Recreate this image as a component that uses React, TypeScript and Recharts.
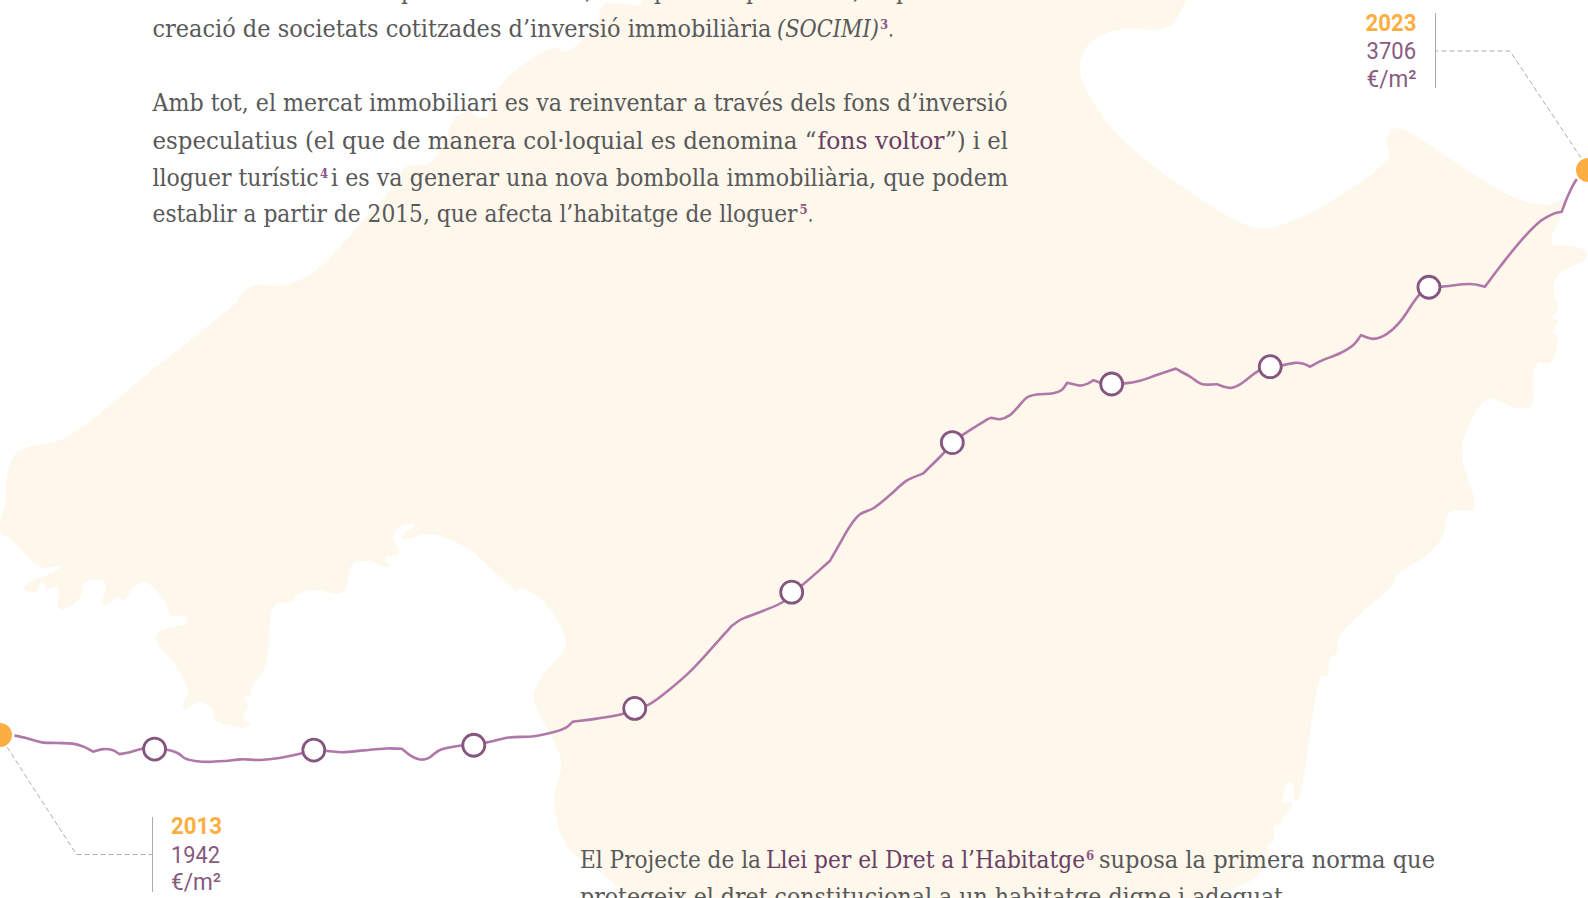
import React from "react"
import { Line, LineChart, XAxis, YAxis } from "recharts"

// price series: position along the time axis and euro per square metre
const lineX = [
  2013.029, 2013.12, 2013.197, 2013.293, 2013.39, 2013.486, 2013.558, 2013.613, 2013.678, 2013.739, 2013.779, 2013.846,
  2013.93, 2014.0, 2014.087, 2014.147, 2014.195, 2014.255, 2014.339, 2014.447, 2014.543, 2014.663, 2014.784, 2014.928,
  2015.0, 2015.084, 2015.18, 2015.313, 2015.457, 2015.553, 2015.601, 2015.661, 2015.717, 2015.793, 2015.926, 2016.005,
  2016.106, 2016.226, 2016.383, 2016.515, 2016.587, 2016.625, 2016.777, 2016.944, 2017.016, 2017.101, 2017.217, 2017.363,
  2017.489, 2017.625, 2017.688, 2017.824, 2017.949, 2018.002, 2018.075, 2018.243, 2018.305, 2018.368, 2018.431, 2018.515,
  2018.619, 2018.724, 2018.829, 2018.954, 2019.011, 2019.091, 2019.216, 2019.251, 2019.31, 2019.373, 2019.425, 2019.478,
  2019.541, 2019.645, 2019.698, 2019.733, 2019.813, 2019.865, 2019.897, 2019.939, 2020.012, 2020.096, 2020.19, 2020.295,
  2020.414, 2020.504, 2020.577, 2020.672, 2020.755, 2020.818, 2020.933, 2021.008, 2021.09, 2021.163, 2021.216, 2021.258,
  2021.331, 2021.446, 2021.53, 2021.578, 2021.655, 2021.739, 2021.823, 2021.938, 2022.005, 2022.085, 2022.263, 2022.357,
  2022.451, 2022.577, 2022.702, 2022.786, 2022.839, 2022.88, 2022.933, 2023.004,
]
const lineValues = [
  1942, 1940, 1932, 1919, 1917, 1915, 1905, 1890, 1898, 1894, 1882, 1888,
  1900, 1898, 1895, 1885, 1868, 1861, 1858, 1861, 1866, 1864, 1870, 1885,
  1895, 1892, 1888, 1894, 1900, 1899, 1880, 1866, 1869, 1895, 1909, 1910,
  1921, 1934, 1938, 1952, 1966, 1983, 1993, 2008, 2025, 2036, 2077, 2140,
  2207, 2283, 2304, 2330, 2358, 2388, 2413, 2486, 2540, 2594, 2631, 2650,
  2691, 2736, 2759, 2821, 2855, 2884, 2923, 2932, 2928, 2941, 2967, 2995,
  3005, 3009, 3019, 3042, 3033, 3040, 3050, 3043, 3038, 3040, 3048, 3066,
  3086, 3061, 3038, 3037, 3026, 3037, 3079, 3092, 3097, 3104, 3101, 3092,
  3111, 3134, 3160, 3190, 3179, 3194, 3232, 3313, 3340, 3342, 3350, 3342,
  3404, 3482, 3545, 3569, 3576, 3628, 3677, 3706,
]

// points where the pen line has a sharp corner
const cornerX = [
  2013.613, 2013.779, 2015.553, 2016.625, 2017.625, 2018.243, 2018.829, 2019.733, 2019.897,
  2020.414, 2020.672, 2021.258, 2021.578, 2022.357, 2022.839,
]

// the white yearly rings
const ringX = [2014.0, 2015.0, 2016.005, 2017.016, 2018.002, 2019.011, 2020.012, 2021.008, 2022.005]
const ringValues = [1898, 1895, 1910, 2025, 2388, 2855, 3038, 3092, 3340]

// the two orange end points and their labels
const endX = [2013.029, 2023.004]
const endValues = [1942, 3706]
const endYears = ["2013", "2023"]
const unitLabel = "€/m²"

// a corner point goes in twice, the curve then breaks its tangent there
const lineData = lineX.flatMap((x, i) => {
  const point = { x, value: lineValues[i] }
  return cornerX.includes(x) ? [point, point] : [point]
})
const ringData = ringX.map((x, i) => ({ x, value: ringValues[i] }))
const endData = endX.map((x, i) => ({ x, value: endValues[i] }))

// outline of the island behind the chart
const coast: [number, number][] = [
  [642, -30], [642, 0], [638, 5], [620, 3], [606, 3], [600, 10], [598, 20], [580, 42], [567, 51], [553, 48], [527, 62], [505, 80], [491, 100],
  [487, 116], [476, 116], [469, 112], [455, 118], [442, 147], [429, 163], [406, 167], [393, 187], [366, 217], [339, 248],
  [312, 273], [286, 285], [257, 285], [243, 292], [237, 302], [152, 370], [67, 437], [20, 450], [8, 470], [6, 500], [0, 531],
  [12, 540], [28, 557], [43, 568], [61, 567], [28, 583], [24, 590], [35, 592], [43, 583], [47, 589], [58, 588], [58, 607],
  [65, 609], [81, 597], [84, 583], [101, 580], [106, 587], [102, 603], [105, 606], [118, 597], [124, 600], [136, 585],
  [148, 583], [168, 607], [170, 615], [186, 617], [186, 624], [162, 630], [156, 640], [174, 663], [188, 690], [184, 708],
  [200, 702], [213, 710], [215, 720], [237, 727], [250, 725], [243, 718], [248, 707], [245, 696], [251, 695], [251, 688],
  [265, 667], [269, 640], [271, 613], [277, 603], [289, 603], [300, 593], [316, 590], [343, 592], [352, 565], [368, 561],
  [389, 567], [385, 558], [399, 553], [393, 538], [399, 527], [411, 524], [415, 526], [405, 532], [403, 539], [429, 534],
  [451, 540], [474, 553], [516, 591], [522, 588], [542, 600], [561, 627], [565, 647], [542, 677], [534, 700], [561, 760],
  [554, 800], [566, 845], [597, 870], [630, 898], [650, 930], [1180, 930], [1205, 898], [1233, 889], [1257, 876], [1268, 857], [1268, 845], [1273, 842], [1274, 826],
  [1280, 824], [1285, 815], [1292, 804], [1283, 803], [1283, 796], [1290, 782], [1295, 800], [1298, 801], [1305, 769],
  [1313, 712], [1321, 676], [1327, 676], [1330, 658], [1337, 653], [1338, 639], [1357, 617], [1392, 586], [1397, 575],
  [1427, 555], [1443, 536], [1450, 512], [1473, 510], [1475, 502], [1462, 456], [1467, 430], [1487, 400], [1517, 408],
  [1532, 405], [1533, 376], [1538, 363], [1550, 363], [1558, 338], [1553, 332], [1558, 321], [1552, 317], [1558, 311],
  [1553, 287], [1560, 273], [1587, 255], [1567, 245], [1552, 243], [1562, 213], [1567, 200], [1547, 205], [1513, 197],
  [1467, 170], [1417, 137], [1398, 128], [1390, 132], [1387, 143], [1388, 159], [1333, 200], [1287, 223], [1252, 227],
  [1183, 187], [1123, 140], [1090, 97], [1080, 67], [1090, 43], [1117, 30], [1168, 27], [1187, 0], [1210, -30],
]

// tangent through the neighbours, handle a third of the segment, so short steps don't overshoot
function tangent(a: number[], b: number[]) {
  const dx = b[0] - a[0]
  const dy = b[1] - a[1]
  const len = Math.hypot(dx, dy) || 1
  return [dx / len, dy / len]
}

function segment(p0: number[], p1: number[], p2: number[], p3: number[]) {
  const t1 = tangent(p0, p2)
  const t2 = tangent(p1, p3)
  const h = Math.hypot(p2[0] - p1[0], p2[1] - p1[1]) / 3
  return [p1[0] + t1[0] * h, p1[1] + t1[1] * h, p2[0] - t2[0] * h, p2[1] - t2[1] * h, p2[0], p2[1]]
}

function smoothClosed(pts: [number, number][]) {
  const n = pts.length
  let d = `M${pts[0][0]},${pts[0][1]}`
  for (let i = 0; i < n; i++) {
    const s = segment(pts[(i - 1 + n) % n], pts[i], pts[(i + 1) % n], pts[(i + 2) % n])
    d += `C${s[0]},${s[1]} ${s[2]},${s[3]} ${s[4]},${s[5]}`
  }
  return d + "Z"
}

// curve factory for the price line
function penCurve(context: any) {
  let pts: number[][] = []
  return {
    areaStart() {},
    areaEnd() {},
    lineStart() {
      pts = []
    },
    point(x: number, y: number) {
      pts.push([+x, +y])
    },
    lineEnd() {
      const n = pts.length
      if (!n) return
      context.moveTo(pts[0][0], pts[0][1])
      for (let i = 0; i < n - 1; i++) {
        const s = segment(pts[Math.max(i - 1, 0)], pts[i], pts[i + 1], pts[Math.min(i + 2, n - 1)])
        context.bezierCurveTo(s[0], s[1], s[2], s[3], s[4], s[5])
      }
    },
  }
}

const bodyColor = "#595959"
const linkColor = "#6a3f65"
const noteColor = "#8d5a86"
const labelColor = "#875a80"
const orange = "#fdae42"
const serif = "'DejaVu Serif Condensed', 'DejaVu Serif', serif"
const din = "Roboto, sans-serif"

function Run({ x, y, width, fill = bodyColor, italic, children }: { x: number; y: number; width: number; fill?: string; italic?: boolean; children: string }) {
  return (
    <text x={x} y={y} textLength={width} lengthAdjust="spacingAndGlyphs" fontFamily={serif} fontSize={24} fontStyle={italic ? "italic" : "normal"} fill={fill}>
      {children}
    </text>
  )
}

function Note({ x, y, children }: { x: number; y: number; children: string }) {
  return (
    <text x={x} y={y - 8} fontFamily={serif} fontSize={13} fontWeight={700} fill={noteColor}>
      {children}
    </text>
  )
}

function Label({ x, y, width, color, bold, children }: { x: number; y: number; width: number; color: string; bold?: boolean; children: string }) {
  return (
    <text x={x} y={y} textLength={width} lengthAdjust="spacingAndGlyphs" fontFamily={din} fontSize={24} fontWeight={bold ? 700 : 400} fill={color}>
      {children}
    </text>
  )
}

function Backdrop() {
  return (
    <svg width={1588} height={898} style={{ position: "absolute", left: 0, top: 0 }}>
      <path d={smoothClosed(coast)} fill="#fef7ec" />

      {/* descenders of the line cut off by the top edge */}
      <g fontFamily={serif} fontSize={24} fill={bodyColor}>
        {[401, 654, 746, 896].map((x) => <text key={x} x={x} y={-1}>p</text>)}
        {[585, 853].map((x) => <text key={x} x={x} y={-1}>,</text>)}
      </g>

      <Run x={152.5} y={36.5} width={619}>creació de societats cotitzades d’inversió immobiliària</Run>
      <Run x={777} y={36.5} width={102} italic>(SOCIMI)</Run>
      <Note x={880} y={36.5}>3</Note>
      <Run x={888.5} y={36.5} width={5}>.</Run>

      <Run x={152.5} y={110.5} width={855}>Amb tot, el mercat immobiliari es va reinventar a través dels fons d’inversió</Run>

      <Run x={152.5} y={148.5} width={664}>especulatius (el que de manera col·loquial es denomina “</Run>
      <Run x={817.5} y={148.5} width={127} fill={linkColor}>fons voltor</Run>
      <Run x={945} y={148.5} width={63}>”) i el</Run>

      <Run x={152.5} y={185.5} width={166}>lloguer turístic</Run>
      <Note x={320} y={185.5}>4</Note>
      <Run x={331} y={185.5} width={677}>i es va generar una nova bombolla immobiliària, que podem</Run>

      <Run x={152.5} y={222} width={645}>establir a partir de 2015, que afecta l’habitatge de lloguer</Run>
      <Note x={799.5} y={222}>5</Note>
      <Run x={808} y={222} width={5}>.</Run>

      <Run x={580} y={868} width={181}>El Projecte de la</Run>
      <Run x={766} y={868} width={319} fill={linkColor}>Llei per el Dret a l’Habitatge</Run>
      <Note x={1086} y={868}>6</Note>
      <Run x={1099} y={868} width={336}>suposa la primera norma que</Run>

      <Run x={580} y={905} width={710}>protegeix el dret constitucional a un habitatge digne i adequat.</Run>

      {/* callouts */}
      <polyline points="7,747 76.5,854.5 152,854.5" fill="none" stroke="#adadad" strokeDasharray="5 3" />
      <line x1={152.5} x2={152.5} y1={817} y2={892} stroke="#ababab" />
      <Label x={171} y={833.5} width={51} color={orange} bold>{endYears[0]}</Label>
      <Label x={171} y={862.5} width={49} color={labelColor}>{String(endValues[0])}</Label>
      <Label x={171} y={890} width={50} color={labelColor}>{unitLabel}</Label>

      <polyline points="1581,158 1510,51 1435,51" fill="none" stroke="#adadad" strokeDasharray="5 3" />
      <line x1={1435.5} x2={1435.5} y1={13} y2={88} stroke="#ababab" />
      <Label x={1365.5} y={30.5} width={51} color={orange} bold>{endYears[1]}</Label>
      <Label x={1366.5} y={58.5} width={49.5} color={labelColor}>{String(endValues[1])}</Label>
      <Label x={1366.5} y={87} width={50} color={labelColor}>{unitLabel}</Label>
    </svg>
  )
}

export default function App() {
  return (
    <div style={{ position: "fixed", left: 0, top: 0, width: 1588, height: 898, overflow: "hidden", background: "#fff" }}>
      <Backdrop />
      <div style={{ position: "absolute", left: 0, top: 0 }}>
        <LineChart width={1588} height={898} margin={{ top: 0, right: 0, bottom: 0, left: 0 }}>
          <XAxis dataKey="x" type="number" domain={[2013.029, 2023.004]} hide />
          <YAxis dataKey="value" type="number" domain={[1433, 4237]} hide />
          <Line data={lineData} dataKey="value" type={penCurve as any} stroke="#b077a9" strokeWidth={2.6} dot={false} activeDot={false} isAnimationActive={false} />
          <Line data={ringData} dataKey="value" stroke="none" dot={{ r: 11, fill: "#fff", stroke: "#85567f", strokeWidth: 2.8 }} activeDot={false} isAnimationActive={false} />
          <Line data={endData} dataKey="value" stroke="none" dot={{ r: 13.25, fill: orange, stroke: "#fff", strokeWidth: 2.5 }} activeDot={false} isAnimationActive={false} />
        </LineChart>
      </div>
    </div>
  )
}
